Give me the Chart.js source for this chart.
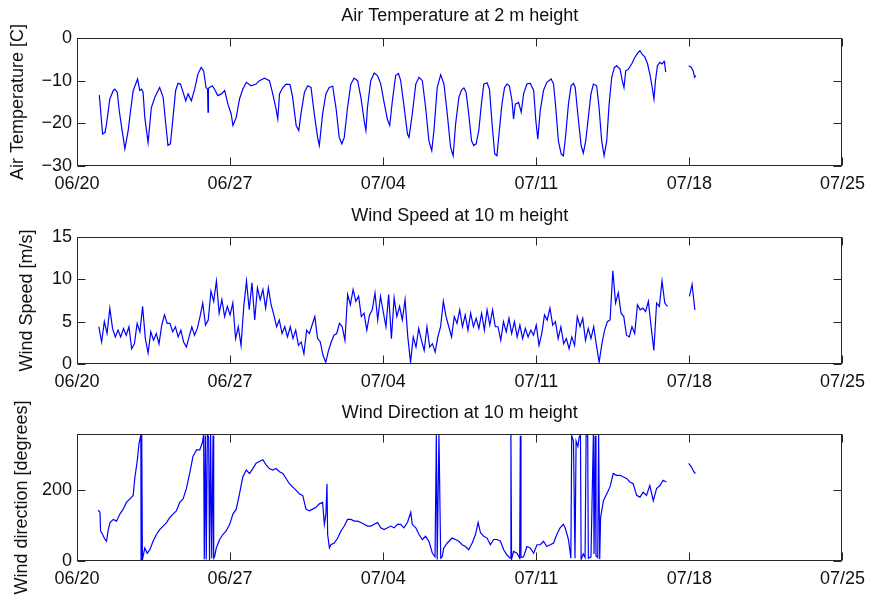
<!DOCTYPE html>
<html><head><meta charset="utf-8">
<script src="https://cdn.jsdelivr.net/npm/chart.js@4.4.1/dist/chart.umd.min.js"></script>
<style>
html,body{margin:0;padding:0;background:#fff;}
#wrap{position:relative;width:872px;height:601px;overflow:hidden;background:#fff;}
canvas{position:absolute;left:0;}
</style></head><body><div id="wrap">
<canvas id="c1" width="872" height="205" style="top:0px"></canvas>
<canvas id="c2" width="872" height="205" style="top:199px"></canvas>
<canvas id="c3" width="872" height="205" style="top:396px"></canvas>
</div>
<script>
// x axis: days after 06/20 00:00
const dateTickValues = [0, 7, 14, 21, 28, 35];
const dateTickLabels = ['06/20', '06/27', '07/04', '07/11', '07/18', '07/25'];

const tempTicks = [-30, -20, -10, 0];
const speedTicks = [0, 5, 10, 15];
const dirTicks = [0, 200];

// Air temperature [C]
const tempDays = [
 1.02,1.08,1.17,1.28,1.35,1.50,1.66,1.73,1.84,1.93,
 2.04,2.19,2.34,2.45,2.57,2.77,2.87,2.95,3.02,3.10,
 3.25,3.40,3.56,3.78,3.94,4.06,4.16,4.27,4.39,4.51,
 4.62,4.73,4.85,4.97,5.08,5.23,5.38,5.53,5.68,5.79,
 5.90,5.97,5.99,6.01,6.06,6.19,6.29,6.44,6.60,6.75,
 6.90,7.05,7.13,7.28,7.43,7.58,7.74,7.96,8.19,8.34,
 8.57,8.80,8.95,9.10,9.18,9.26,9.41,9.56,9.74,9.86,
 10.02,10.14,10.24,10.40,10.55,10.70,10.85,11.00,11.08,11.23,
 11.38,11.53,11.69,11.84,11.99,12.11,12.22,12.37,12.52,12.67,
 12.83,12.98,13.13,13.21,13.28,13.43,13.59,13.74,13.89,14.04,
 14.19,14.30,14.42,14.57,14.70,14.80,14.95,15.11,15.18,15.33,
 15.49,15.64,15.79,15.94,16.09,16.22,16.32,16.47,16.63,16.78,
 16.93,17.08,17.20,17.31,17.46,17.58,17.69,17.79,17.91,18.04,
 18.14,18.25,18.37,18.49,18.60,18.75,18.86,18.98,19.10,19.20,
 19.31,19.43,19.55,19.66,19.77,19.89,19.96,20.04,20.19,20.31,
 20.42,20.57,20.72,20.88,20.98,21.07,21.18,21.33,21.48,21.68,
 21.79,21.89,22.01,22.14,22.24,22.35,22.47,22.59,22.70,22.78,
 22.89,23.05,23.15,23.26,23.38,23.50,23.61,23.76,23.87,23.99,
 24.10,24.22,24.33,24.45,24.57,24.68,24.83,24.93,25.01,25.09,
 25.21,25.36,25.51,25.66,25.74,25.84,25.97,26.09,26.19,26.30,
 26.38,26.45,26.54,26.65,26.75,26.84,26.87,26.92,27.45,27.97,
 28.09,28.17,28.24,28.29
];
const tempValues = [
 -13.4,-17.0,-22.5,-22.1,-20.2,-14.3,-12.3,-12.0,-12.7,-17.0,
 -20.9,-26.0,-21.7,-17.0,-12.3,-9.6,-12.3,-12.0,-12.7,-18.6,
 -24.5,-16.3,-13.9,-11.6,-13.9,-20.2,-25.2,-24.8,-18.6,-12.3,
 -10.6,-10.8,-12.7,-14.7,-13.1,-14.7,-12.0,-8.4,-6.9,-7.7,
 -11.6,-12.0,-17.4,-11.8,-11.6,-11.2,-12.0,-13.5,-13.1,-12.3,
 -15.5,-17.8,-20.5,-18.6,-14.3,-12.0,-10.4,-11.2,-10.8,-10.0,
 -9.4,-10.0,-13.1,-16.6,-19.0,-13.1,-11.6,-10.8,-10.9,-13.9,
 -20.5,-21.7,-17.8,-12.7,-11.2,-11.6,-17.8,-23.3,-25.2,-17.8,
 -13.1,-11.6,-11.3,-16.3,-23.3,-24.8,-23.3,-16.3,-10.8,-9.4,
 -10.0,-13.9,-19.4,-21.7,-16.3,-10.0,-8.2,-8.8,-10.8,-15.1,
 -19.0,-20.5,-14.7,-8.8,-8.3,-10.0,-15.9,-22.5,-23.3,-17.8,
 -10.8,-9.2,-10.0,-16.3,-24.1,-26.4,-21.7,-11.6,-8.6,-10.8,
 -17.8,-25.6,-27.6,-20.2,-13.9,-12.2,-11.7,-12.7,-17.8,-24.1,
 -25.2,-24.8,-21.7,-15.5,-10.8,-10.5,-12.0,-20.2,-27.2,-27.6,
 -21.7,-15.5,-11.6,-10.8,-11.2,-14.7,-19.0,-15.5,-15.1,-17.4,
 -13.1,-10.8,-10.6,-12.3,-19.4,-23.7,-17.0,-12.3,-10.4,-9.6,
 -10.8,-16.3,-24.1,-27.2,-27.6,-22.5,-15.5,-11.2,-10.6,-11.6,
 -17.4,-25.2,-27.0,-24.1,-18.6,-13.1,-10.8,-11.2,-16.3,-24.1,
 -27.6,-24.1,-15.5,-9.2,-6.9,-6.5,-7.3,-10.0,-11.6,-7.7,
 -7.3,-6.1,-4.5,-3.4,-3.0,-3.8,-4.5,-6.1,-8.4,-11.6,
 -14.3,-10.0,-6.5,-5.7,-6.1,-5.5,-6.1,-8.0,null,-6.5,
 -6.9,-7.7,-9.2,-8.8
];

// Wind speed [m/s], sampled every 3 hours from day 1.0
const speedStartDay = 1.0;
const speedStepDay = 0.125;
const speedValues = [
 4.4,2.6,5.0,3.6,6.6,4.2,3.2,4.0,
 3.2,4.2,3.4,4.4,1.8,2.4,4.8,3.8,
 6.8,3.0,1.3,3.8,2.8,3.6,2.4,4.6,
 5.8,4.8,4.8,3.8,4.4,3.2,4.0,2.6,
 2.0,3.2,4.4,3.4,4.2,5.6,7.2,4.6,
 5.2,8.6,7.4,9.8,6.0,7.6,5.6,6.8,
 5.8,7.2,3.0,4.4,2.2,6.8,9.8,6.4,
 9.6,5.2,9.0,7.6,8.8,6.6,9.0,7.0,
 5.8,4.4,5.2,3.6,4.4,3.2,4.4,3.0,
 4.0,2.2,2.6,1.2,4.0,3.6,4.6,5.6,
 3.0,2.6,1.0,0.2,1.6,2.6,3.4,3.6,
 4.8,4.4,2.8,8.2,7.0,8.8,7.4,8.0,
 5.6,6.0,4.0,5.8,6.4,8.4,5.2,8.0,
 6.2,4.4,8.2,3.0,7.8,5.6,6.8,5.2,
 7.6,3.2,0.2,3.2,2.0,4.2,2.8,1.6,
 4.4,2.0,2.4,1.4,3.2,4.4,7.4,5.6,
 4.4,3.2,5.6,4.8,6.4,4.4,5.8,4.0,
 6.0,4.4,5.4,4.2,6.0,4.0,6.4,4.6,
 6.4,4.4,4.4,2.8,5.0,3.8,5.4,3.6,
 5.0,3.2,4.6,3.0,4.2,3.2,4.0,3.4,
 4.6,2.2,3.6,5.8,5.2,6.6,4.6,5.0,
 3.0,4.4,2.4,3.0,1.8,3.2,2.2,5.6,
 4.4,5.4,2.8,4.2,3.0,4.4,2.2,0.2,
 2.4,4.0,5.0,5.2,11.0,7.2,8.4,6.0,
 5.6,3.4,3.2,4.4,3.6,7.0,6.4,6.6,
 6.2,7.4,4.4,1.6,7.2,6.8,9.8,7.2,
 6.8,null,null,null,null,null,null,null,
 8.0,9.4,6.4
];

// Wind direction [degrees]
const dirDays = [
 0.97,1.05,1.08,1.17,1.28,1.35,1.43,1.51,1.66,1.81,
 1.96,2.11,2.26,2.42,2.57,2.64,2.75,2.84,2.92,2.93,
 2.96,2.99,3.10,3.21,3.33,3.48,3.63,3.78,3.94,4.09,
 4.24,4.39,4.54,4.70,4.85,5.00,5.15,5.30,5.46,5.61,
 5.73,5.79,5.82,5.87,5.91,5.96,6.02,6.06,6.11,6.16,
 6.22,6.25,6.29,6.37,6.52,6.67,6.82,6.98,7.13,7.28,
 7.43,7.58,7.74,7.89,8.04,8.19,8.34,8.50,8.65,8.80,
 8.95,9.10,9.26,9.41,9.56,9.71,9.86,10.02,10.17,10.32,
 10.47,10.62,10.78,10.93,11.08,11.23,11.31,11.38,11.43,11.46,
 11.54,11.61,11.76,11.92,12.07,12.22,12.37,12.52,12.68,12.83,
 12.98,13.13,13.28,13.44,13.59,13.74,13.89,14.04,14.20,14.35,
 14.50,14.65,14.80,14.95,15.11,15.26,15.33,15.49,15.64,15.79,
 15.94,16.09,16.25,16.37,16.43,16.47,16.55,16.63,16.70,16.77,
 16.93,17.15,17.31,17.46,17.61,17.76,17.91,18.07,18.22,18.34,
 18.45,18.60,18.75,18.90,19.05,19.21,19.36,19.51,19.66,19.81,
 19.84,19.87,19.96,20.12,20.24,20.27,20.30,20.42,20.57,20.72,
 20.88,21.03,21.18,21.33,21.48,21.64,21.79,21.94,22.09,22.24,
 22.32,22.47,22.58,22.62,22.70,22.77,22.82,22.90,22.96,23.02,
 23.05,23.15,23.23,23.28,23.35,23.38,23.50,23.61,23.64,23.69,
 23.73,23.81,23.85,23.90,23.94,24.07,24.22,24.37,24.52,24.67,
 24.83,24.98,25.13,25.28,25.43,25.59,25.74,25.89,26.04,26.19,
 26.35,26.50,26.65,26.80,26.95,27.45,27.97,28.09,28.20,28.28
];
const dirValues = [
 144,138,85,75,61,56,89,109,118,113,
 133,147,166,176,186,234,282,335,357,2,
 358,3,37,22,32,56,75,89,99,109,
 123,133,142,166,176,205,248,296,315,315,
 335,358,5,356,4,358,352,2,357,8,
 356,8,12,37,61,75,85,104,133,147,
 190,238,258,248,262,277,282,287,272,262,
 258,262,253,248,234,219,210,200,190,186,
 147,142,147,152,162,166,104,133,219,75,
 37,46,51,65,85,99,118,118,113,113,
 109,104,99,99,104,109,94,89,94,99,
 94,104,104,94,109,138,104,94,75,61,
 70,56,22,12,358,4,357,8,12,37,
 51,65,61,56,46,41,32,51,75,109,
 80,70,65,46,61,61,56,32,17,8,
 358,5,27,22,8,355,10,12,41,37,
 22,46,46,56,41,46,51,75,94,104,
 94,61,8,355,340,8,340,325,350,358,
 5,20,10,358,359,8,12,358,20,355,
 15,10,359,5,123,171,190,210,248,243,
 243,238,234,224,219,186,181,195,186,214,
 171,205,214,229,224,null,277,267,253,248
];

const FONT = "'Liberation Sans', Arial, Helvetica, sans-serif";
const TEXT = '#111';

const matlabAxes = {
  id: 'matlabAxes',
  afterDraw(chart) {
    const {ctx, chartArea: a, scales: {x, y}} = chart;
    const L = 8;
    ctx.save();
    ctx.strokeStyle = '#262626';
    ctx.lineWidth = 1;
    const l = Math.round(a.left) + 0.5, r = Math.round(a.right) - 0.5;
    const t = Math.round(a.top) + 0.5, b = Math.round(a.bottom) - 0.5;
    ctx.strokeRect(l, t, r - l, b - t);
    ctx.beginPath();
    x.ticks.forEach(tk => {
      const p = Math.round(x.getPixelForValue(tk.value)) + 0.5;
      ctx.moveTo(p, b); ctx.lineTo(p, b - L);
      ctx.moveTo(p, t); ctx.lineTo(p, t + L);
    });
    y.ticks.forEach(tk => {
      const p = Math.round(y.getPixelForValue(tk.value)) + 0.5;
      ctx.moveTo(l, p); ctx.lineTo(l + L, p);
      ctx.moveTo(r, p); ctx.lineTo(r - L, p);
    });
    ctx.stroke();
    ctx.restore();
  }
};

function makeChart(id, cfg) {
  return new Chart(document.getElementById(id), {
    type: 'line',
    data: {datasets: [{
      data: cfg.points, borderColor: 'rgb(0,0,255)', borderWidth: 1.2,
      pointRadius: 0, tension: 0, spanGaps: false, fill: false
    }]},
    options: {
      responsive: false, animation: false, events: [],
      layout: {padding: {left: 0, right: 27, top: 0, bottom: 0}},
      plugins: {legend: {display: false}, tooltip: {enabled: false}, title: {display: false}},
      scales: {
        x: {
          type: 'linear', position: 'bottom', min: 0, max: 35,
          grid: {display: false, drawTicks: false}, border: {display: false},
          afterBuildTicks(s) { s.ticks = dateTickValues.map(v => ({value: v})); },
          afterFit(s) { s.height = cfg.xAxisHeight; },
          ticks: {padding: 7, color: TEXT, font: {family: FONT, size: 18},
            maxRotation: 0, autoSkip: false,
            callback: (v) => dateTickLabels[dateTickValues.indexOf(v)]}
        },
        xTitle: {
          type: 'linear', position: 'top', min: 0, max: 1,
          grid: {display: false, drawTicks: false}, border: {display: false},
          ticks: {display: false},
          afterFit(s) { s.height = 38; },
          title: {display: true, text: cfg.title, color: TEXT,
            font: {family: FONT, size: 18, weight: 'normal'},
            padding: {top: cfg.titleTop, bottom: 0}}
        },
        y: {
          type: 'linear', min: cfg.yMin, max: cfg.yMax,
          grid: {display: false, drawTicks: false}, border: {display: false},
          afterBuildTicks(s) { s.ticks = cfg.yTicks.map(v => ({value: v})); },
          afterFit(s) { s.width = 77; },
          title: {display: true, text: cfg.yTitle, color: TEXT,
            font: {family: FONT, size: 18}, padding: {top: cfg.yTitlePad, bottom: 0}},
          ticks: {padding: 5, color: TEXT, font: {family: FONT, size: 18},
            callback: (v) => String(v).replace('-', '\u2212')}
        }
      }
    },
    plugins: [matlabAxes]
  });
}

const tempPoints = tempDays.map((d, i) => ({x: d, y: tempValues[i]}));
const speedPoints = speedValues.map((v, i) => ({x: speedStartDay + i * speedStepDay, y: v}));
const dirPoints = dirDays.map((d, i) => ({x: d, y: dirValues[i]}));

makeChart('c1', {points: tempPoints, title: 'Air Temperature at 2 m height',
  titleTop: 5.2, xAxisHeight: 39,
  yMin: -30, yMax: 0, yTicks: tempTicks, yTitle: 'Air Temperature [C]', yTitlePad: 7.2});
makeChart('c2', {points: speedPoints, title: 'Wind Speed at 10 m height',
  titleTop: 6.2, xAxisHeight: 40,
  yMin: 0, yMax: 15, yTicks: speedTicks, yTitle: 'Wind Speed [m/s]', yTitlePad: 16.4});
makeChart('c3', {points: dirPoints, title: 'Wind Direction at 10 m height',
  titleTop: 6.2, xAxisHeight: 40,
  yMin: 0, yMax: 360, yTicks: dirTicks, yTitle: 'Wind direction [degrees]', yTitlePad: 10.8});
</script>
</body></html>
